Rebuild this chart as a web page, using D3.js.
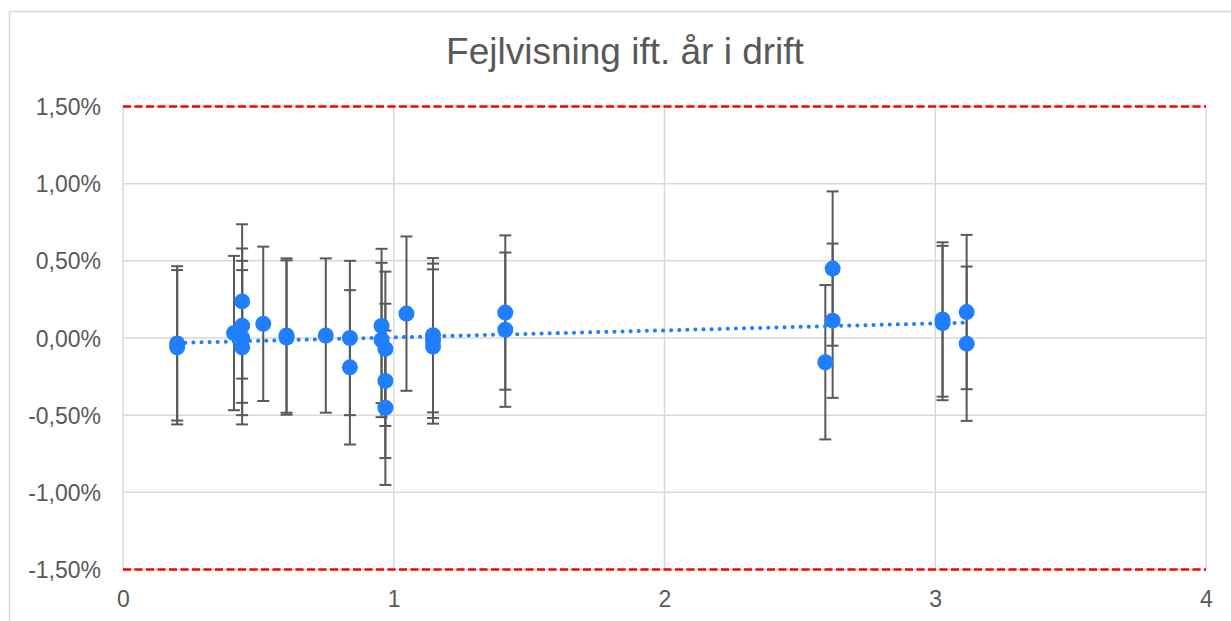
<!DOCTYPE html>
<html>
<head>
<meta charset="utf-8">
<script src="https://cdn.jsdelivr.net/npm/d3@7"></script>
<style>
  html, body { margin: 0; padding: 0; background: #ffffff; }
  svg { display: block; }
  text { font-family: "Liberation Sans", Arial, sans-serif; fill: #595959; }
</style>
</head>
<body>
<svg id="chart" width="1231" height="621"></svg>
<script>
// ---- data ----
const title = "Fejlvisning ift. år i drift";
const years = [0.20, 0.20, 0.41, 0.44, 0.44, 0.44, 0.44, 0.518, 0.604, 0.604,
               0.749, 0.838, 0.838, 0.955, 0.955, 0.969, 0.969, 0.969, 1.047,
               1.145, 1.145, 1.145, 1.412, 1.412, 2.594, 2.621, 2.621,
               3.027, 3.027, 3.116, 3.116];
const errors = [-0.035, -0.06, 0.032, 0.237, 0.08, 0.0, -0.06, 0.092, 0.016, 0.003,
                0.016, 0.0, -0.19, 0.078, -0.013, -0.07, -0.278, -0.452, 0.158,
                0.018, -0.018, -0.055, 0.165, 0.054, -0.157, 0.45, 0.112,
                0.12, 0.097, 0.168, -0.037];
const errorMargin = 0.5;            // ± error bar, in %
const trendX = [0.2, 3.116];
const trendY = [-0.032, 0.10];
const limitX = [0, 4];
const limitValues = [1.5, -1.5];
const xTicks = [0, 1, 2, 3, 4];
const yTicks = [-1.5, -1.0, -0.5, 0, 0.5, 1.0, 1.5];
const yTickLabels = ["-1,50%", "-1,00%", "-0,50%", "0,00%", "0,50%", "1,00%", "1,50%"];

// ---- layout ----
const svg = d3.select("#chart");
const plot = { left: 123, right: 1206, top: 106.5, bottom: 569.5 };
const x = d3.scaleLinear().domain([0, 4]).range([plot.left, plot.right]);
const y = d3.scaleLinear().domain([-1.5, 1.5]).range([plot.bottom, plot.top]);

const blue = "#1f7fff";
const grid = "#d9d9d9";
const barColor = "#595959";

// outer chart border (left & top visible)
svg.append("path")
  .attr("d", "M9.5,621 L9.5,11.5 L1231,11.5")
  .attr("fill", "none").attr("stroke", grid).attr("stroke-width", 1.5);

// title
svg.append("text")
  .attr("x", 625).attr("y", 64)
  .attr("text-anchor", "middle")
  .style("font-size", "37px")
  .text(title);

// gridlines
const g = svg.append("g");
g.selectAll("line.h").data(yTicks).join("line")
  .attr("x1", plot.left).attr("x2", plot.right)
  .attr("y1", d => y(d)).attr("y2", d => y(d))
  .attr("stroke", grid).attr("stroke-width", 1.5);
g.selectAll("line.v").data(xTicks).join("line")
  .attr("y1", plot.top).attr("y2", plot.bottom)
  .attr("x1", d => x(d)).attr("x2", d => x(d))
  .attr("stroke", grid).attr("stroke-width", 1.5);

// axes (labels only)
const yAxis = d3.axisLeft(y).tickValues(yTicks)
  .tickFormat((d, i) => yTickLabels[i]).tickSize(0).tickPadding(22);
svg.append("g").attr("transform", `translate(${plot.left},0)`).call(yAxis)
  .call(a => a.select(".domain").remove())
  .call(a => a.selectAll("text").style("font-size", "23px").attr("fill", "#595959")
        .attr("dy", "0.35em"));

const xAxis = d3.axisBottom(x).tickValues(xTicks).tickFormat(d3.format("d"))
  .tickSize(0).tickPadding(21);
svg.append("g").attr("transform", `translate(0,${plot.bottom})`).call(xAxis)
  .call(a => a.select(".domain").remove())
  .call(a => a.selectAll("text").style("font-size", "23px").attr("fill", "#595959"));

// limit lines
limitValues.forEach(v => {
  svg.append("path")
    .datum(limitX.map(xx => [xx, v]))
    .attr("d", d3.line().x(d => x(d[0])).y(d => y(d[1])))
    .attr("fill", "none").attr("stroke", "#ff0000")
    .attr("stroke-width", 2.5).attr("stroke-dasharray", "8,3.5");
});

// error bars
const pts = years.map((yr, i) => ({ x: yr, y: errors[i] }));
const eb = svg.append("g").attr("stroke", barColor).attr("stroke-width", 2);
eb.selectAll("line.stem").data(pts).join("line")
  .attr("x1", d => x(d.x)).attr("x2", d => x(d.x))
  .attr("y1", d => y(d.y + errorMargin)).attr("y2", d => y(d.y - errorMargin));
eb.selectAll("line.capT").data(pts).join("line")
  .attr("x1", d => x(d.x) - 6).attr("x2", d => x(d.x) + 6)
  .attr("y1", d => y(d.y + errorMargin)).attr("y2", d => y(d.y + errorMargin));
eb.selectAll("line.capB").data(pts).join("line")
  .attr("x1", d => x(d.x) - 6).attr("x2", d => x(d.x) + 6)
  .attr("y1", d => y(d.y - errorMargin)).attr("y2", d => y(d.y - errorMargin));

// trendline
svg.append("path")
  .datum(trendX.map((xx, i) => [xx, trendY[i]]))
  .attr("d", d3.line().x(d => x(d[0])).y(d => y(d[1])))
  .attr("fill", "none").attr("stroke", blue).attr("stroke-width", 4)
  .attr("stroke-linecap", "round").attr("stroke-dasharray", "0.1,8");

// points
svg.append("g").selectAll("circle").data(pts).join("circle")
  .attr("cx", d => x(d.x)).attr("cy", d => y(d.y))
  .attr("r", 8).attr("fill", blue);
</script>
</body>
</html>
